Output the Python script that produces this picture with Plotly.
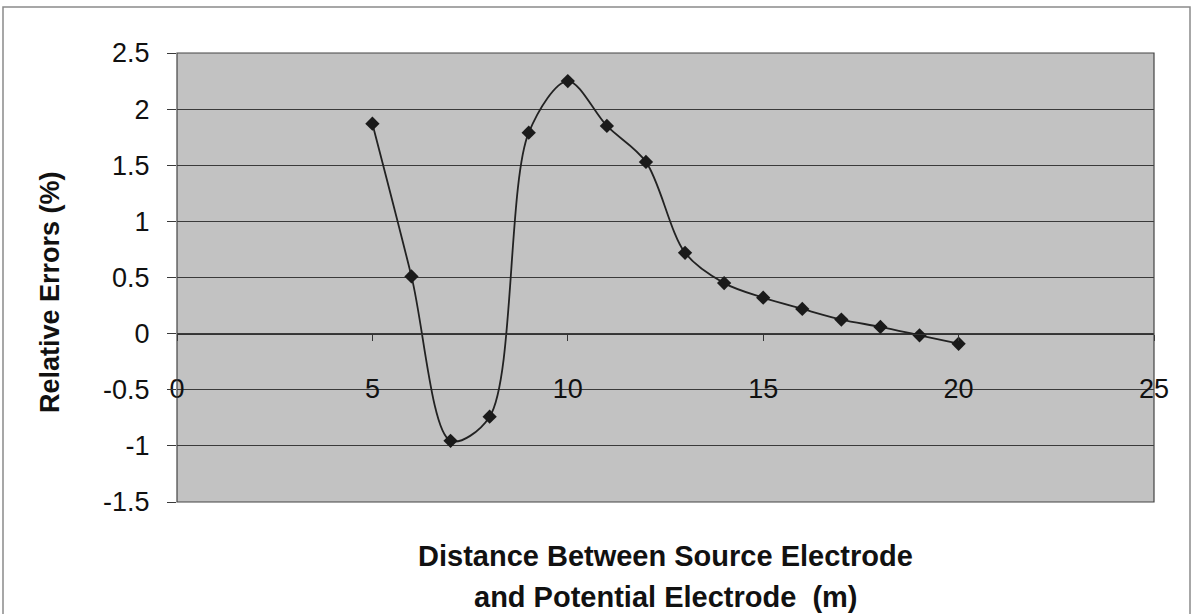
import plotly.graph_objects as go

# Data
distance_m = [5, 6, 7, 8, 9, 10, 11, 12, 13, 14, 15, 16, 17, 18, 19, 20]
relative_error_pct = [1.87, 0.51, -0.955, -0.74, 1.79, 2.25, 1.85, 1.53, 0.72,
                      0.45, 0.32, 0.22, 0.125, 0.06, -0.015, -0.09]

x_ticks = [0, 5, 10, 15, 20, 25]
y_ticks = [-1.5, -1, -0.5, 0, 0.5, 1, 1.5, 2, 2.5]

x_title_lines = ["Distance Between Source Electrode", "and Potential Electrode  (m)"]
y_title = "Relative Errors (%)"

FONT = "Liberation Sans, Arial, Helvetica, sans-serif"

fig = go.Figure()
fig.add_trace(go.Scatter(
    x=distance_m, y=relative_error_pct,
    mode="lines+markers",
    line=dict(color="#222222", width=1.8, shape="spline", smoothing=0.9),
    marker=dict(symbol="diamond", size=11, color="#1a1a1a"),
    showlegend=False,
))

L, R, T, B = 177, 41, 53, 112
W, H = 1195, 614
pw, ph = W - L - R, H - T - B

def px_x(p):
    return (p - L) / pw

def px_y(p):
    return (H - B - p) / ph

fig.update_layout(
    width=W, height=H,
    margin=dict(l=L, r=R, t=T, b=B, pad=0),
    paper_bgcolor="white",
    plot_bgcolor="#c2c2c2",
    font=dict(family=FONT, size=27, color="#111111"),
    xaxis=dict(
        range=[0, 25], tickvals=x_ticks, ticktext=[str(v) for v in x_ticks],
        showgrid=False, zeroline=False,
        anchor="free", position=1.5 / 4,
        showline=True, linecolor="#333333", linewidth=1,
        ticks="outside", ticklen=6, tickcolor="#333333",
        ticklabelstandoff=25,
        tickfont=dict(family=FONT, size=27, color="#111111"),
    ),
    yaxis=dict(
        range=[-1.5, 2.5], tickvals=y_ticks,
        ticktext=[("%g" % v) for v in y_ticks],
        showgrid=True, gridcolor="#3a3a3a", gridwidth=1,
        zeroline=False,
        showline=False,
        ticks="outside", ticklen=9, tickcolor="#3a3a3a",
        ticklabelstandoff=12,
        tickfont=dict(family=FONT, size=27, color="#111111"),
    ),
    shapes=[
        # plot area border
        dict(type="rect", xref="paper", yref="paper", x0=0, x1=1, y0=0, y1=1,
             line=dict(color="#444444", width=1.2), layer="above"),
        # chart area border
        dict(type="rect", xref="paper", yref="paper",
             x0=px_x(3), x1=px_x(1190), y0=px_y(640), y1=px_y(7),
             line=dict(color="#8a8a8a", width=1.5), layer="below"),
    ],
    annotations=[
        dict(text="<b>%s</b>" % x_title_lines[0], xref="paper", yref="paper",
             x=0.5, y=px_y(556), xanchor="center", yanchor="middle",
             showarrow=False, font=dict(family=FONT, size=29, color="#111111")),
        dict(text="<b>%s</b>" % x_title_lines[1], xref="paper", yref="paper",
             x=0.5, y=px_y(597), xanchor="center", yanchor="middle",
             showarrow=False, font=dict(family=FONT, size=29, color="#111111")),
        dict(text="<b>%s</b>" % y_title, xref="paper", yref="paper",
             x=px_x(50), y=px_y(292), xanchor="center", yanchor="middle",
             textangle=-90, showarrow=False,
             font=dict(family=FONT, size=27, color="#111111")),
    ],
)

fig.write_html("out.html")
